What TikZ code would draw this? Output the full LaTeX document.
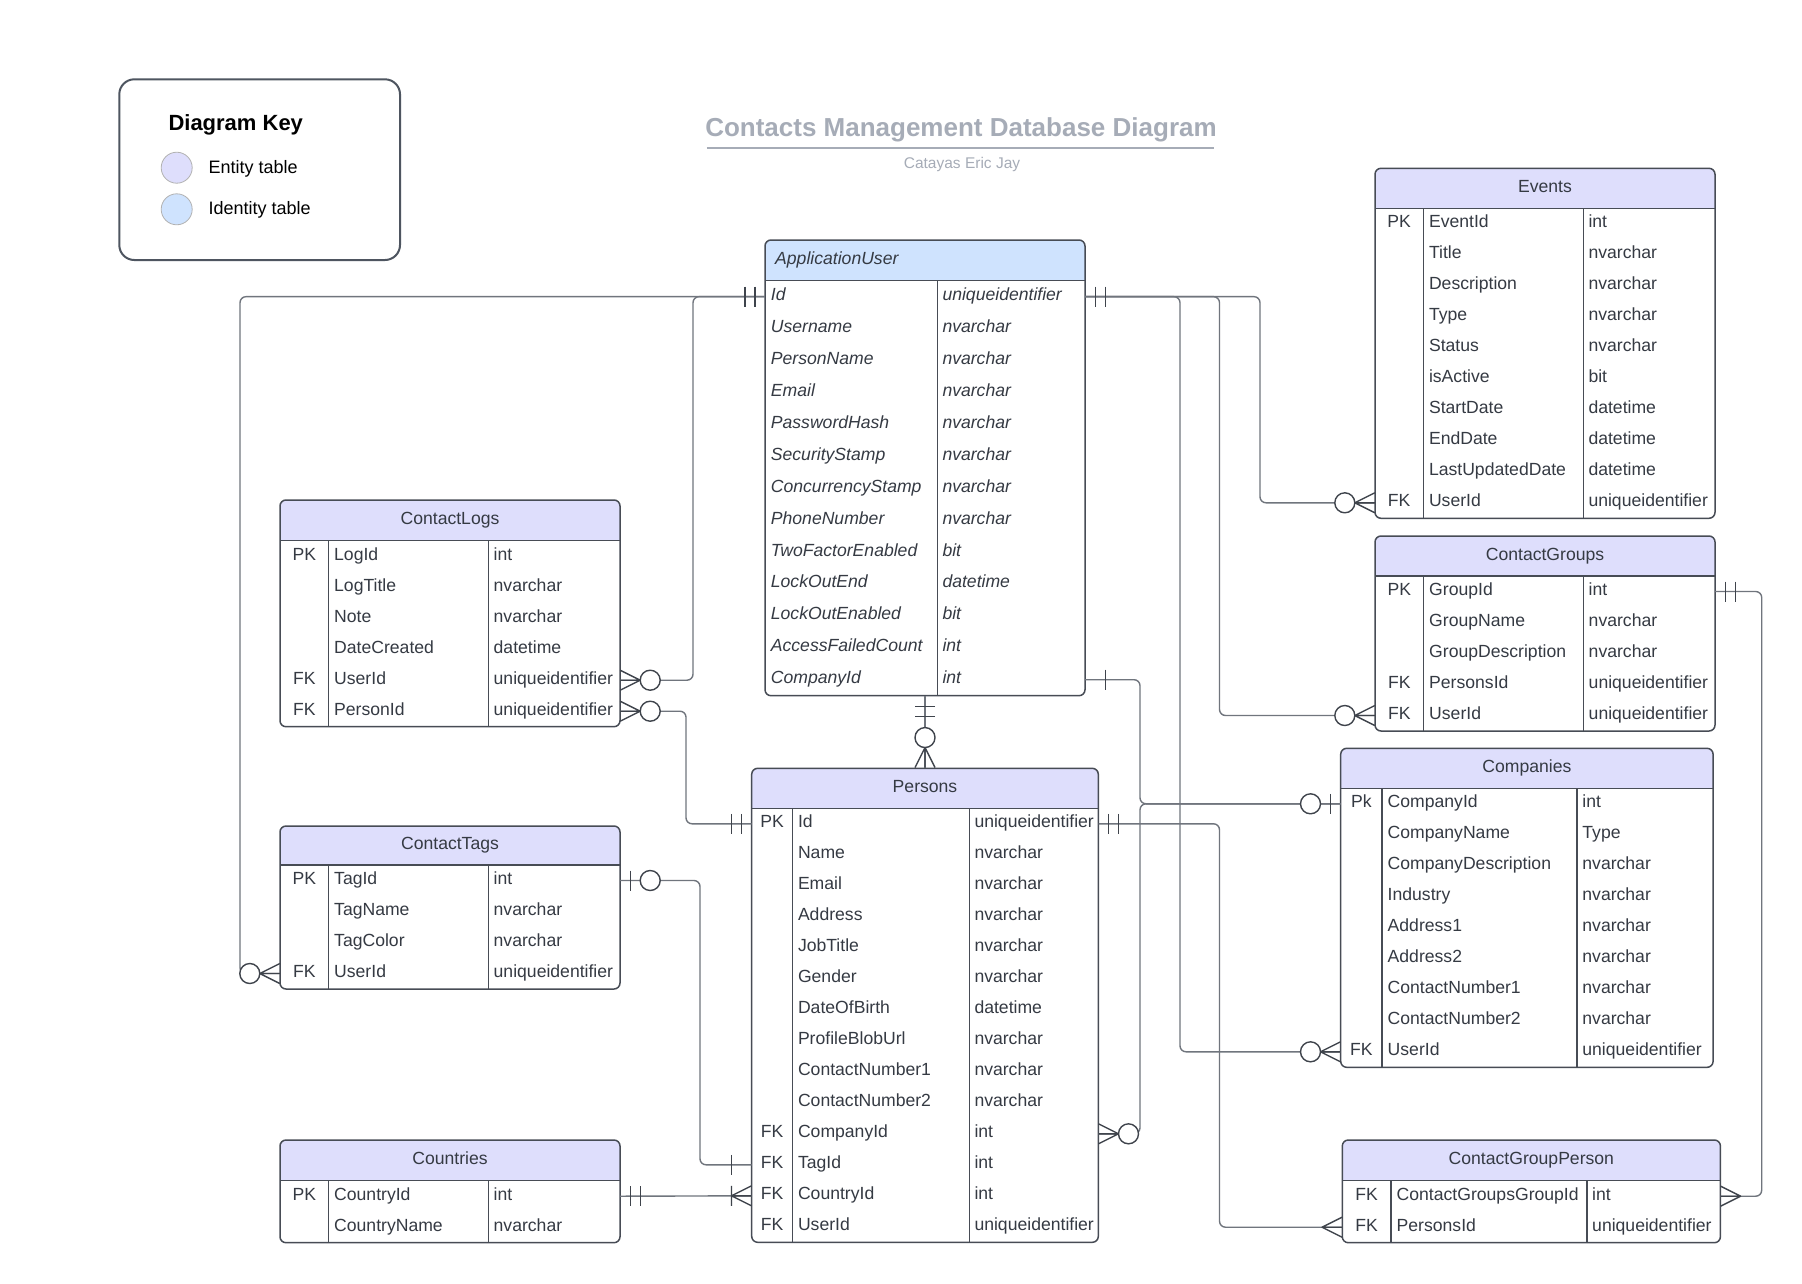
\documentclass[tikz,border=0pt]{standalone}
\usepackage{fontspec}
\setmainfont{Liberation Sans}
\usetikzlibrary{calc}
\definecolor{entfill}{HTML}{DEDEFC}
\definecolor{idfill}{HTML}{CFE3FE}
\definecolor{bordc}{HTML}{474C55}
\definecolor{txtc}{HTML}{353A43}
\definecolor{connc}{HTML}{70757D}
\definecolor{mkc}{HTML}{3F444C}
\definecolor{titlec}{HTML}{A6ACB7}
\definecolor{keyc}{HTML}{4E5560}
\tikzset{
  tbox/.style={draw=bordc, line width=1.5pt, rounded corners=6pt, inner sep=0pt},
  tline/.style={draw=bordc, line width=1.5pt},
  rowbox/.style={inner sep=0pt, draw=none},
  ttext/.style={inner sep=0pt, text=txtc, font=\fontsize{17.6}{20}\selectfont},
  itext/.style={inner sep=0pt, text=txtc, font=\fontsize{17.6}{20}\selectfont\itshape},
  conn/.style={draw=connc, line width=1.4pt, rounded corners=6pt},
  mk/.style={draw=mkc, line width=1.4pt, line join=round},
}
% #1 name #2 x0 #3 x1 #4 xd1 #5 xd2 #6 y0 #7 yh #8 title #9 rows
\newcommand\ertable[9]{%
  \foreach[count=\i] \cK/\cF/\cT in {#9} {\xdef\tbN{\i}}
  \pgfmathsetmacro\tbBot{#7+\tbN*31}
  \pgfmathsetmacro\tbCX{(#2+#3)/2}
  \pgfmathsetmacro\tbCY{(#6+\tbBot)/2}
  \pgfmathsetmacro\tbW{#3-#2}
  \pgfmathsetmacro\tbH{\tbBot-#6}
  \pgfmathsetmacro\tbHY{(#6+#7)/2+4}
  \pgfmathsetmacro\tbKX{(#2+#4)/2}
  \begin{scope}
    \clip[rounded corners=6pt] (#2,#6) rectangle (#3,\tbBot);
    \fill[white] (#2,#6) rectangle (#3,\tbBot);
    \fill[entfill] (#2,#6) rectangle (#3,#7);
  \end{scope}
  \node[tbox, minimum width=\tbW pt, minimum height=\tbH pt] (#1) at (\tbCX,\tbCY) {};
  \draw[tline] (#2,#7) -- (#3,#7) (#4,#7) -- (#4,\tbBot) (#5,#7) -- (#5,\tbBot);
  \node[ttext, anchor=base] (#1-title) at (\tbCX,\tbHY) {#8};
  \foreach[count=\i] \cK/\cF/\cT in {#9} {
    \pgfmathsetmacro\tbYC{#7+(\i-0.5)*31}
    \pgfmathsetmacro\tbYB{\tbYC+4}
    \node[rowbox, minimum width=\tbW pt, minimum height=31pt] (#1-\i) at (\tbCX,\tbYC) {};
    \node[ttext, anchor=base] (#1-\i-k) at (\tbKX,\tbYB) {\cK};
    \node[ttext, anchor=base west] (#1-\i-f) at (#4+5.5,\tbYB) {\cF};
    \node[ttext, anchor=base west] (#1-\i-t) at (#5+5,\tbYB) {\cT};
  }
}
\newcommand\mkOneOnly[2]{\begin{scope}[shift={(#1)},#2]\draw[mk] (10,-10) -- (10,10) (20,-10) -- (20,10);\end{scope}}
\newcommand\mkOne[2]{\begin{scope}[shift={(#1)},#2]\draw[mk] (20,-10) -- (20,10);\end{scope}}
\newcommand\mkZeroOne[2]{\begin{scope}[shift={(#1)},#2]\draw[mk] (10,-10) -- (10,10);\draw[mk,fill=white] (30,0) circle[radius=10pt];\end{scope}}
\newcommand\mkZeroMany[2]{\begin{scope}[shift={(#1)},#2]\draw[mk] (0,-10) -- (20,0) -- (0,10) (0,0) -- (20,0);\draw[mk,fill=white] (30,0) circle[radius=10pt];\end{scope}}
\newcommand\mkMany[2]{\begin{scope}[shift={(#1)},#2]\draw[mk] (0,-10) -- (20,0) -- (0,10) (0,0) -- (20,0);\end{scope}}
\newcommand\mkOneMany[2]{\begin{scope}[shift={(#1)},#2]\draw[mk] (0,-10) -- (20,0) -- (0,10) (0,0) -- (20,0) (20,-10) -- (20,10);\end{scope}}

\begin{document}
\begin{tikzpicture}[x=1pt,y=-1pt]
\useasboundingbox (0,0) rectangle (1802,1283);
\fill[white] (0,0) rectangle (1802,1283);

% ---------- title ----------
\node[anchor=base, inner sep=0pt, text=titlec, font=\bfseries\fontsize{26}{30}\selectfont] (title) at (961,136.7) {Contacts Management Database Diagram};
\draw[titlec, line width=2pt] (706.8,147.7) -- (1213.9,147.7);
\node[anchor=base, inner sep=0pt, text=titlec, font=\fontsize{15.5}{18}\selectfont] (subtitle) at (962,168.8) {Catayas Eric Jay};

% ---------- key ----------
\node[draw=keyc, line width=2pt, rounded corners=15pt, minimum width=280.7pt, minimum height=180.7pt, inner sep=0pt] (keybox) at (259.65,169.65) {};
\node[anchor=base west, inner sep=0pt, font=\bfseries\fontsize{22}{26}\selectfont] (keytitle) at (168.3,130) {Diagram Key};
\node[circle, draw=black!30, line width=0.8pt, fill=entfill, minimum size=31pt, inner sep=0pt] (keyent) at (176.7,167.7) {};
\node[circle, draw=black!30, line width=0.8pt, fill=idfill, minimum size=31pt, inner sep=0pt] (keyid) at (176.7,209.3) {};
\node[anchor=base west, inner sep=0pt, font=\fontsize{18}{22}\selectfont] (keyenttxt) at (208.3,173.2) {Entity table};
\node[anchor=base west, inner sep=0pt, font=\fontsize{18}{22}\selectfont] (keyidtxt) at (208.3,214.2) {Identity table};

% ---------- ApplicationUser ----------
\begin{scope}
  \clip[rounded corners=6pt] (765,240) rectangle (1085,695.7);
  \fill[white] (765,240) rectangle (1085,695.7);
  \fill[idfill] (765,240) rectangle (1085,280.7);
\end{scope}
\node[tbox, minimum width=320pt, minimum height=455.7pt] (au) at (925,467.85) {};
\draw[tline] (765,280.7) -- (1085,280.7) (937.3,280.7) -- (937.3,695.7);
\node[itext, anchor=base west] (au-title) at (775,264.4) {ApplicationUser};
\foreach[count=\i] \cF/\cT in {Id/uniqueidentifier, Username/nvarchar, PersonName/nvarchar, Email/nvarchar, PasswordHash/nvarchar, SecurityStamp/nvarchar, ConcurrencyStamp/nvarchar, PhoneNumber/nvarchar, TwoFactorEnabled/bit, LockOutEnd/datetime, LockOutEnabled/bit, AccessFailedCount/int, CompanyId/int} {
  \pgfmathsetmacro\tbYC{280.7+(\i-0.5)*31.92}
  \pgfmathsetmacro\tbYB{\tbYC+4}
  \node[rowbox, minimum width=320pt, minimum height=31.92pt] (au-\i) at (925,\tbYC) {};
  \node[itext, anchor=base west] (au-\i-f) at (770.7,\tbYB) {\cF};
  \node[itext, anchor=base west] (au-\i-t) at (942.3,\tbYB) {\cT};
}

% ---------- entity tables ----------
\ertable{events}{1375}{1715}{1423.3}{1583.3}{168.3}{208.3}{Events}{PK/EventId/int, {}/Title/nvarchar, {}/Description/nvarchar, {}/Type/nvarchar, {}/Status/nvarchar, {}/isActive/bit, {}/StartDate/datetime, {}/EndDate/datetime, {}/LastUpdatedDate/datetime, FK/UserId/uniqueidentifier}
\ertable{cgroups}{1375}{1715}{1423.5}{1583.5}{536}{576}{ContactGroups}{PK/GroupId/int, {}/GroupName/nvarchar, {}/GroupDescription/nvarchar, FK/PersonsId/uniqueidentifier, FK/UserId/uniqueidentifier}
\ertable{companies}{1340.7}{1713.1}{1382}{1577.2}{748.3}{788.3}{Companies}{Pk/CompanyId/int, {}/CompanyName/Type, {}/CompanyDescription/nvarchar, {}/Industry/nvarchar, {}/Address1/nvarchar, {}/Address2/nvarchar, {}/ContactNumber1/nvarchar, {}/ContactNumber2/nvarchar, FK/UserId/uniqueidentifier}
\ertable{cgp}{1342.3}{1720.4}{1391}{1587}{1140}{1180.7}{ContactGroupPerson}{FK/ContactGroupsGroupId/int, FK/PersonsId/uniqueidentifier}
\ertable{persons}{751.7}{1098.3}{792.3}{969.3}{768.3}{808.3}{Persons}{PK/Id/uniqueidentifier, {}/Name/nvarchar, {}/Email/nvarchar, {}/Address/nvarchar, {}/JobTitle/nvarchar, {}/Gender/nvarchar, {}/DateOfBirth/datetime, {}/ProfileBlobUrl/nvarchar, {}/ContactNumber1/nvarchar, {}/ContactNumber2/nvarchar, FK/CompanyId/int, FK/TagId/int, FK/CountryId/int, FK/UserId/uniqueidentifier}
\ertable{clogs}{280}{620}{328.5}{488.5}{500}{540.7}{ContactLogs}{PK/LogId/int, {}/LogTitle/nvarchar, {}/Note/nvarchar, {}/DateCreated/datetime, FK/UserId/uniqueidentifier, FK/PersonId/uniqueidentifier}
\ertable{ctags}{280}{620}{328.5}{488.5}{826}{865}{ContactTags}{PK/TagId/int, {}/TagName/nvarchar, {}/TagColor/nvarchar, FK/UserId/uniqueidentifier}
\ertable{countries}{280}{620}{328.5}{488.5}{1140}{1180.7}{Countries}{PK/CountryId/int, {}/CountryName/nvarchar}

% ---------- bus coordinates ----------
\coordinate (busA) at (240,0);
\coordinate (busB) at (693,0);
\coordinate (busC) at (686,0);
\coordinate (busD) at (700,0);
\coordinate (busE) at (1140,0);
\coordinate (busF) at (1180,0);
\coordinate (busG) at (1219.5,0);
\coordinate (busH) at (1260,0);
\coordinate (busI) at (1761.7,0);

% ---------- connectors ----------
\draw[conn] (au-1.west) -- (busA |- au-1.west) -- (busA |- ctags-4.west) -- (ctags-4.west);
\draw[conn] (au-1.west) -- (busB |- au-1.west) -- (busB |- clogs-5.east) -- (clogs-5.east);
\draw[conn] (clogs-6.east) -- (busC |- clogs-6.east) -- (busC |- persons-1.west) -- (persons-1.west);
\draw[conn] (ctags-1.east) -- (busD |- ctags-1.east) -- (busD |- persons-12.west) -- (persons-12.west);
\draw[conn] (countries-1.east) -- (persons-13.west);
\draw[conn] (au.south) -- (persons.north);
\draw[conn] (au-1.east) -- (busH |- au-1.east) -- (busH |- events-10.west) -- (events-10.west);
\draw[conn] (au-1.east) -- (busG |- au-1.east) -- (busG |- cgroups-5.west) -- (cgroups-5.west);
\draw[conn] (au-1.east) -- (busF |- au-1.east) -- (busF |- companies-9.west) -- (companies-9.west);
\draw[conn] (au-13.east) -- (busE |- au-13.east) -- (busE |- companies-1.west) -- (companies-1.west);
\draw[conn] (persons-11.east) -- (busE |- persons-11.east) -- (busE |- companies-1.west) -- (companies-1.west);
\draw[conn] (persons-1.east) -- (busG |- persons-1.east) -- (busG |- cgp-2.west) -- (cgp-2.west);
\draw[conn] (cgroups-1.east) -- (busI |- cgroups-1.east) -- (busI |- cgp-1.east) -- (cgp-1.east);

% ---------- end marks ----------
\mkOneOnly{au-1.west}{xscale=-1}
\mkOneOnly{au-1.east}{}
\mkZeroMany{ctags-4.west}{xscale=-1}
\mkZeroMany{clogs-5.east}{}
\mkZeroMany{clogs-6.east}{}
\mkOneOnly{persons-1.west}{xscale=-1}
\mkZeroOne{ctags-1.east}{}
\mkOne{persons-12.west}{xscale=-1}
\mkOneOnly{countries-1.east}{}
\mkOneMany{persons-13.west}{xscale=-1}
\mkOneOnly{au.south}{rotate=-90}
\mkZeroMany{persons.north}{rotate=90}
\mkZeroMany{events-10.west}{xscale=-1}
\mkZeroMany{cgroups-5.west}{xscale=-1}
\mkZeroMany{companies-9.west}{xscale=-1}
\mkOne{au-13.east}{}
\mkZeroOne{companies-1.west}{xscale=-1}
\mkZeroMany{persons-11.east}{}
\mkOneOnly{persons-1.east}{}
\mkMany{cgp-2.west}{xscale=-1}
\mkOneOnly{cgroups-1.east}{}
\mkMany{cgp-1.east}{}
\end{tikzpicture}
\end{document}
